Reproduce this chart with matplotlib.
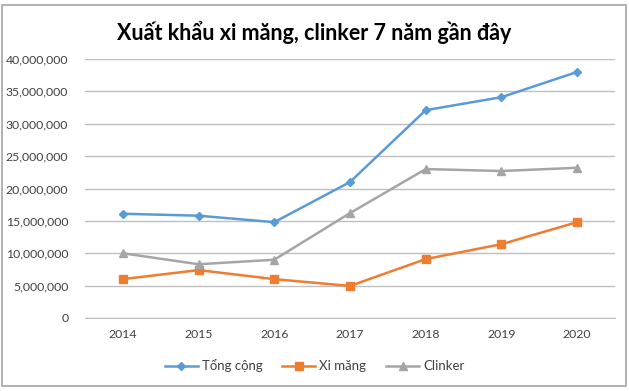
import matplotlib.pyplot as plt
from matplotlib.patches import Rectangle
from matplotlib.ticker import FuncFormatter

years = ['2014', '2015', '2016', '2017', '2018', '2019', '2020']
tong_cong = [16100000, 15800000, 14800000, 21000000, 32100000, 34100000, 38000000]
xi_mang = [6000000, 7400000, 6000000, 4950000, 9100000, 11400000, 14800000]
clinker = [10000000, 8300000, 9000000, 16200000, 23000000, 22700000, 23200000]

plt.rcParams['font.family'] = ['Lato', 'DejaVu Sans']

fig = plt.figure(figsize=(6.29, 3.91), dpi=100)
ax = fig.add_axes([85/629, 1-318/391, 530/629, 259/391])

x = range(len(years))
ax.plot(x, tong_cong, color='#5B9BD5', marker='D', markersize=4, lw=1.8, label='Tổng cộng')
ax.plot(x, xi_mang, color='#ED7D31', marker='s', markersize=6, lw=1.8, label='Xi măng')
ax.plot(x, clinker, color='#A5A5A5', marker='^', markersize=6, lw=1.8, label='Clinker')

ax.set_xlim(-0.5, len(years)-0.5)
ax.set_ylim(0, 40000000)
ax.set_yticks(range(0, 40000001, 5000000))
ax.yaxis.set_major_formatter(FuncFormatter(lambda v, p: f'{int(v):,}'))
ax.set_xticks(list(x))
ax.set_xticklabels(years)
ax.grid(axis='y', color='#BFBFBF', lw=1)
ax.set_axisbelow(True)
for s in ['top', 'right', 'left']:
    ax.spines[s].set_visible(False)
ax.spines['bottom'].set_color('#BFBFBF')
ax.tick_params(axis='both', length=0, labelsize=8.8, colors='#404040', pad=8)
ax.tick_params(axis='y', pad=12)

fig.text(0.5, 1-33/391, 'Xuất khẩu xi măng, clinker 7 năm gần đây', ha='center', va='center',
         fontsize=15.5, fontweight='bold', color='black')

fig.legend(loc='center', bbox_to_anchor=(0.5, 1-366/391), ncol=3, frameon=False,
           fontsize=9.5, handlelength=2.5, columnspacing=1.5, handletextpad=0.3,
           labelcolor='#404040')

fig.patches.append(Rectangle((2/629, 5/391), 624/629, 381/391, transform=fig.transFigure,
                             fill=False, edgecolor='#A6A6A6', lw=1.2))

fig.savefig('out.png', dpi=100)
